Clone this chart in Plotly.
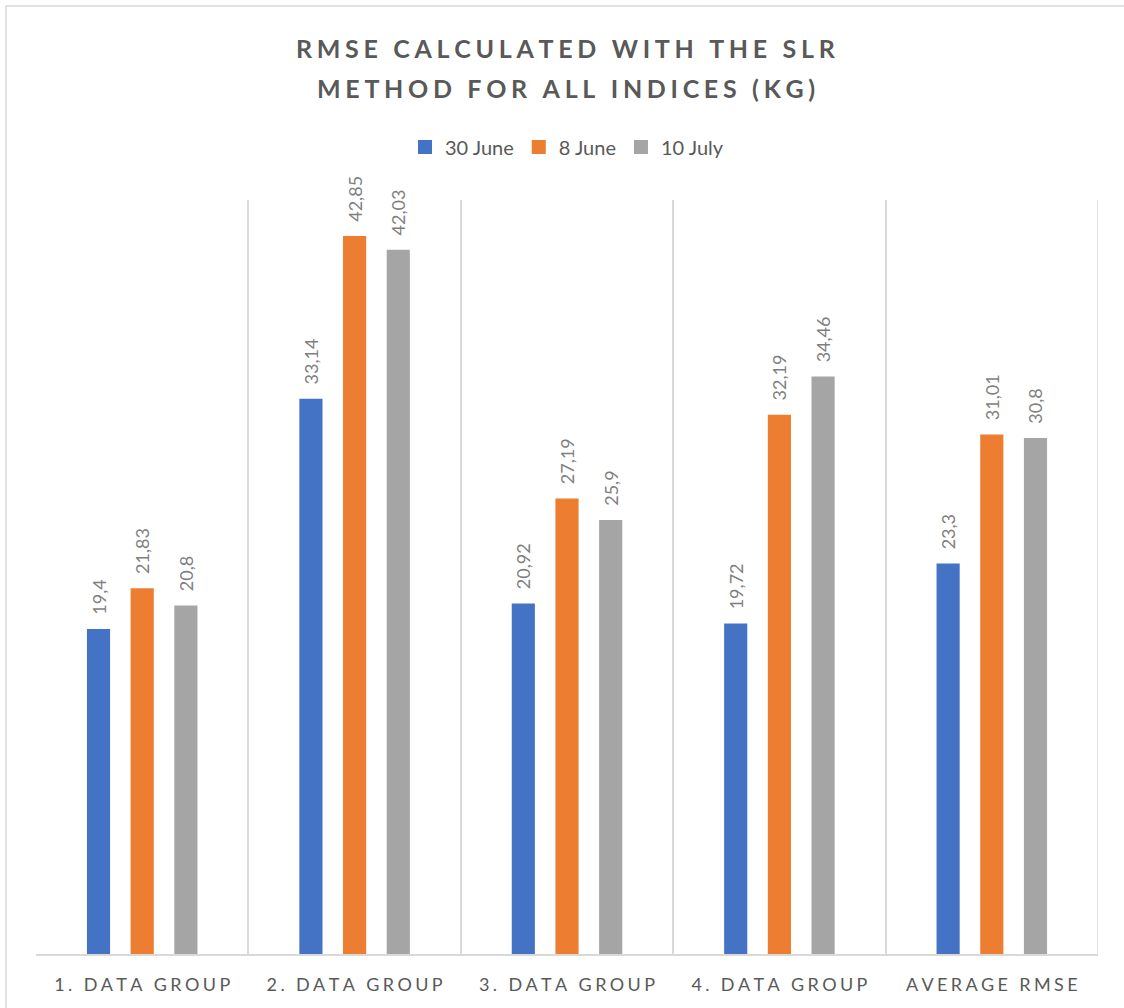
import plotly.graph_objects as go

# Chart content
categories = ["1. DATA GROUP", "2. DATA GROUP", "3. DATA GROUP", "4. DATA GROUP", "AVERAGE RMSE"]
series_names = ["30 June", "8 June", "10 July"]
june30 = [19.4, 33.14, 20.92, 19.72, 23.3]
june8 = [21.83, 42.85, 27.19, 32.19, 31.01]
july10 = [20.8, 42.03, 25.9, 34.46, 30.8]
title_lines = ["RMSE CALCULATED WITH THE SLR", "METHOD FOR ALL INDICES (KG)"]

colors = ["#4472C4", "#ED7D31", "#A5A5A5"]
FONT = "Lato, 'Open Sans', sans-serif"
TXT = "#595959"


def spaced(s, sep="\u2009"):
    """Spread the letters of a label apart."""
    return sep.join(s)


cat_labels = [spaced(c, "\u2009\u200a") for c in categories]

W, H = 1124, 1008
L, R, T, B = 36, 26, 200, 54
pw, ph = W - L - R, H - T - B

fig = go.Figure()
for name, vals, col in zip(series_names, [june30, june8, july10], colors):
    fig.add_trace(go.Bar(
        name=name,
        x=cat_labels,
        y=vals,
        showlegend=False,
        marker=dict(color=col, line=dict(width=0)),
        texttemplate="\u2002\u2009%{y}",
        textposition="outside",
        textangle=-90,
        constraintext="none",
        cliponaxis=False,
        textfont=dict(family=FONT, size=18, color="#7F7F7F"),
    ))

# Square legend keys
for name, col in zip(series_names, colors):
    fig.add_trace(go.Scatter(
        name=name, x=[None], y=[None], mode="markers",
        marker=dict(symbol="square", size=14, color=col),
        showlegend=True, hoverinfo="skip",
    ))


def px_x(p):
    return (p - L) / pw


def px_y(p):
    return (H - B - p) / ph


shapes = [
    dict(type="rect", xref="paper", yref="paper",
         x0=px_x(6), x1=px_x(W + 10), y0=px_y(H + 10), y1=px_y(6),
         line=dict(color="#D9D9D9", width=1.5), fillcolor="rgba(0,0,0,0)",
         layer="below"),
    # right edge of the plot area
    dict(type="line", xref="x", yref="paper", x0=4.5, x1=4.5, y0=0, y1=1,
         line=dict(color="#D9D9D9", width=1.5), layer="below"),
]

annotations = []
for i, line in enumerate(title_lines):
    annotations.append(dict(
        text="<b>" + spaced(line, "\u2009\u200a") + "</b>", xref="paper", yref="paper",
        x=px_x(W / 2 + 4), y=px_y(48 + i * 40), xanchor="center", yanchor="middle",
        showarrow=False, font=dict(family=FONT, size=25, color=TXT)))

fig.update_layout(
    width=W, height=H,
    margin=dict(l=L, r=R, t=T, b=B, autoexpand=False),
    paper_bgcolor="white", plot_bgcolor="white",
    separators=",.",
    barmode="group",
    bargap=0.383,
    bargroupgap=0.47,
    showlegend=True,
    legend=dict(orientation="h", x=0.5, xanchor="center", y=px_y(147), yanchor="middle",
                font=dict(family=FONT, size=20, color=TXT), itemwidth=30,
                traceorder="normal"),
    shapes=shapes,
    annotations=annotations,
    xaxis=dict(
        tickson="boundaries", showgrid=True, gridcolor="#D9D9D9", gridwidth=1.5,
        showline=True, linecolor="#D9D9D9", linewidth=1.5, mirror=False,
        ticks="", ticklabelstandoff=14,
        tickfont=dict(family=FONT, size=18, color=TXT),
        range=[-0.5, 4.5],
    ),
    yaxis=dict(range=[0, 45], showgrid=False, showticklabels=False, zeroline=False,
               showline=False, ticks=""),
)

fig.write_html("out.html")
